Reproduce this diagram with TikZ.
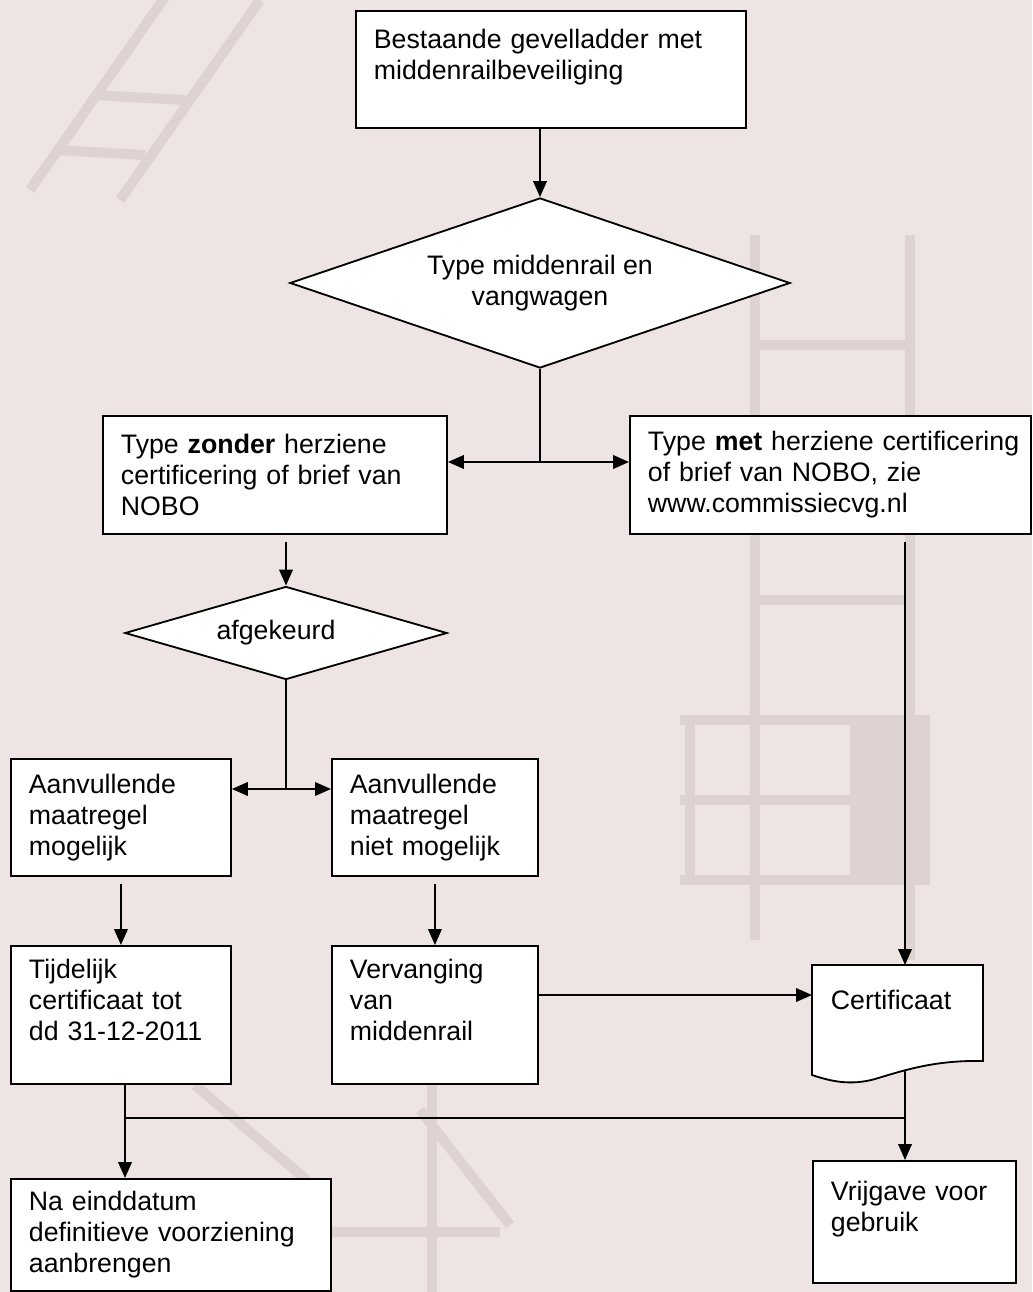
\documentclass[tikz,border=0pt]{standalone}
\usepackage{fontspec}
\setmainfont{Liberation Sans}
\usetikzlibrary{shapes.geometric}
\usetikzlibrary{arrows.meta}

\definecolor{achtergrond}{RGB}{238,228,228}
\definecolor{schets}{RGB}{222,210,210}

\tikzset{
  stap/.style={draw, fill=white, line width=1.3pt, anchor=north west, align=left,
    inner xsep=0.45cm, inner ysep=0.1cm, font=\fontsize{19}{22}\selectfont},
  keuze/.style={draw, fill=white, diamond, line width=1.3pt, align=center,
    inner sep=0pt, font=\fontsize{19}{22}\selectfont},
  lijn/.style={line width=1.3pt},
  pijl/.style={line width=1.3pt, -{Triangle[length=0.4cm, width=0.34cm]}},
  ladder/.style={draw=schets, line width=0.25cm},
}

\begin{document}
\begin{tikzpicture}[x=0.025cm, y=-0.025cm]
    \useasboundingbox (0,0) rectangle (1032,1292);
    \fill[achtergrond] (0,0) rectangle (1032,1292); % achtergrond

    % vage ladderschets achter het schema
    \draw[ladder] (30,190) -- (170,-10);
    \draw[ladder] (120,200) -- (260,0);
    \draw[ladder] (55,150) -- (145,155);
    \draw[ladder] (95,95) -- (185,100);
    \draw[ladder] (755,235) -- (755,940);
    \draw[ladder] (910,235) -- (910,960);
    \draw[ladder] (755,345) -- (910,345);
    \draw[ladder] (755,600) -- (910,600);
    \draw[ladder] (680,720) -- (930,720);
    \draw[ladder] (680,800) -- (930,800);
    \draw[ladder] (680,880) -- (930,880);
    \draw[ladder] (690,720) -- (690,880);
    \fill[schets] (850,720) rectangle (930,880);
    \draw[ladder] (195,1085) -- (330,1200);
    \draw[ladder] (420,1110) -- (510,1225);
    \draw[ladder] (260,1232) -- (500,1232);
    \draw[ladder] (432,1085) -- (432,1292);

    % stappen en keuzes
    \node[stap, text width=8.85cm, minimum height=2.925cm] (start) at (355,10)
        {Bestaande gevelladder met\\ middenrailbeveiliging\\ \mbox{}};
    \node[keuze, shape aspect=2.94, minimum width=12.5cm, minimum height=4.25cm] (typekeuze) at (540,283)
        {Type middenrail en\\ vangwagen};
    \node[stap, text width=7.7cm, minimum height=2.95cm] (zonder) at (102,415)
        {Type \textbf{zonder} herziene\\ certificering of brief van\\ NOBO};
    \node[stap, inner xsep=0.45cm, text width=9.125cm, minimum height=2.95cm] (met) at (629,415)
        {\mbox{Type \textbf{met} herziene certificering}\\ of brief van NOBO, zie\\ www.commissiecvg.nl};
    \node[keuze, shape aspect=3.46, minimum width=8.05cm, minimum height=2.325cm] (afgekeurd) at (286,633)
        {afgekeurd\hspace{0.5cm}};
    \node[stap, text width=4.6cm, minimum height=2.925cm] (wel) at (10,758)
        {Aanvullende\\ maatregel\\ mogelijk};
    \node[stap, text width=4.25cm, minimum height=2.925cm] (niet) at (331,758)
        {Aanvullende\\ maatregel\\ niet mogelijk};
    \node[stap, text width=4.6cm, minimum height=3.45cm] (tijdelijk) at (10,945)
        {Tijdelijk\\ certificaat tot\\ dd 31-12-2011\\ \mbox{}};
    \node[stap, text width=4.25cm, minimum height=3.45cm] (vervanging) at (331,945)
        {Vervanging\\ van\\ middenrail\\ \mbox{}};
    % document met golvende onderrand
    \draw[lijn, fill=white] (812,965) -- (983,965) -- (983,1061)
        .. controls (935,1060) and (905,1070) .. (875,1079)
        .. controls (850,1086) and (830,1081) .. (812,1075) -- cycle;
    \node[stap, draw=none, fill=none, text width=3.375cm, minimum height=3.25cm] (cert) at (812,965)
        {Certificaat\\ \mbox{}\\ \mbox{}};
    \node[stap, text width=4.175cm, minimum height=3.05cm] (vrijgave) at (812,1160)
        {Vrijgave voor\\ gebruik\\ \mbox{}};
    \node[stap, text width=7.1cm, minimum height=2.8cm] (einddatum) at (10,1178)
        {Na einddatum\\ definitieve voorziening\\ aanbrengen};

    % verbindingen
    \draw[pijl] (start.south -| typekeuze.north) -- (typekeuze.north);
    \coordinate (splits1) at (540,462);
    \draw[lijn] (typekeuze.south) -- (splits1);
    \draw[pijl] (splits1) -- (splits1 -| zonder.east);
    \draw[pijl] (splits1) -- (splits1 -| met.west);
    \draw[pijl] (afgekeurd.north |- zonder.south) ++(0,7) -- (afgekeurd.north);
    \coordinate (splits2) at (286,789);
    \draw[lijn] (afgekeurd.south) -- (splits2);
    \draw[pijl] (splits2) -- (splits2 -| wel.east);
    \draw[pijl] (splits2) -- (splits2 -| niet.west);
    \draw[pijl] (wel.south) ++(0,7) -- (tijdelijk.north);
    \draw[pijl] (niet.south) ++(0,7) -- (vervanging.north);
    \coordinate (certin) at (812,995);
    \draw[pijl] (certin -| vervanging.east) -- (certin);
    \coordinate (certtop) at (905,965);
    \draw[pijl] (certtop |- met.south) ++(0,7) -- (certtop);
    \coordinate (certbot) at (905,1071);
    \draw[pijl] (certbot) -- (certbot |- vrijgave.north);
    \coordinate (samen) at (125,1118);
    \draw[pijl] (samen |- tijdelijk.south) -- (samen |- einddatum.north);
    \draw[lijn] (samen) -- (samen -| certbot);
\end{tikzpicture}
\end{document}
